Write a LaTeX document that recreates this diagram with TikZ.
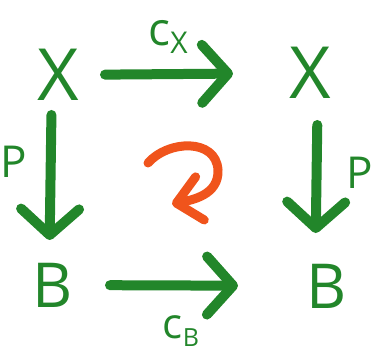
\documentclass[tikz,border=0pt]{standalone}
\usepackage{fontspec}
\setmainfont{Open Sans}
\usepackage{tikz}
\usepackage{xcolor}
\usetikzlibrary{arrows.meta, calc}
\definecolor{chalkgreen}{RGB}{34,134,42}
\definecolor{chalkorange}{RGB}{240,84,28}
\newcommand{\lowsub}[2]{\raisebox{-8pt}{\fontsize{#1}{#1}\selectfont #2}}

\begin{document}
\begin{tikzpicture}[x=1pt, y=-1pt,
    obj/.style={text=chalkgreen, inner sep=0pt, outer sep=0pt},
    lbl/.style={text=chalkgreen, inner sep=0pt, outer sep=0pt},
    map/.style={draw=chalkgreen, line width=10pt, line cap=round, -{Straight Barb[round, length=26pt, width=58pt]}}]
    \useasboundingbox (0,0) rectangle (375,352);

    % Objects
    \node[obj, font=\fontsize{72}{72}\selectfont] (xl) at (58,75) {X};
    \node[obj, font=\fontsize{72}{72}\selectfont] (xr) at (310,73) {X};
    \node[obj, font=\fontsize{62}{62}\selectfont] (bl) at (53,285) {B};
    \node[obj, font=\fontsize{62}{62}\selectfont] (br) at (327,286) {B};

    % Maps
    \draw[map, shorten <=47pt, shorten >=77pt] (xl.center) -- (xr.center);
    \draw[map, shorten <=57pt, shorten >=89pt] (bl.center) -- (br.center);
    \draw[map, shorten <=40pt, shorten >=45pt] ([xshift=-6pt]xl.center) -- ([xshift=-4pt]bl.center);
    \draw[map, shorten <=52pt, shorten >=53pt] ([xshift=8pt]xr.center) -- ([xshift=-12pt]br.center);

    % Labels
    \node[lbl, font=\fontsize{46}{46}\selectfont] (cx) at (168,37) {c\lowsub{30}{X}};
    \node[lbl, font=\fontsize{42}{42}\selectfont] (cb) at (181,331) {c\lowsub{25}{B}};
    \node[lbl, font=\fontsize{44}{44}\selectfont] (pl) at (14,162) {P};
    \node[lbl, font=\fontsize{44}{44}\selectfont] (pr) at (360,173) {P};

    % Commutes
    \draw[chalkorange, line width=9pt, line cap=round, -{Straight Barb[round, length=24pt, width=44pt]}]
        (148,163) .. controls (168,140) and (216,138) .. (218,170) .. controls (219,195) and (192,200) .. (172,204);
\end{tikzpicture}
\end{document}
